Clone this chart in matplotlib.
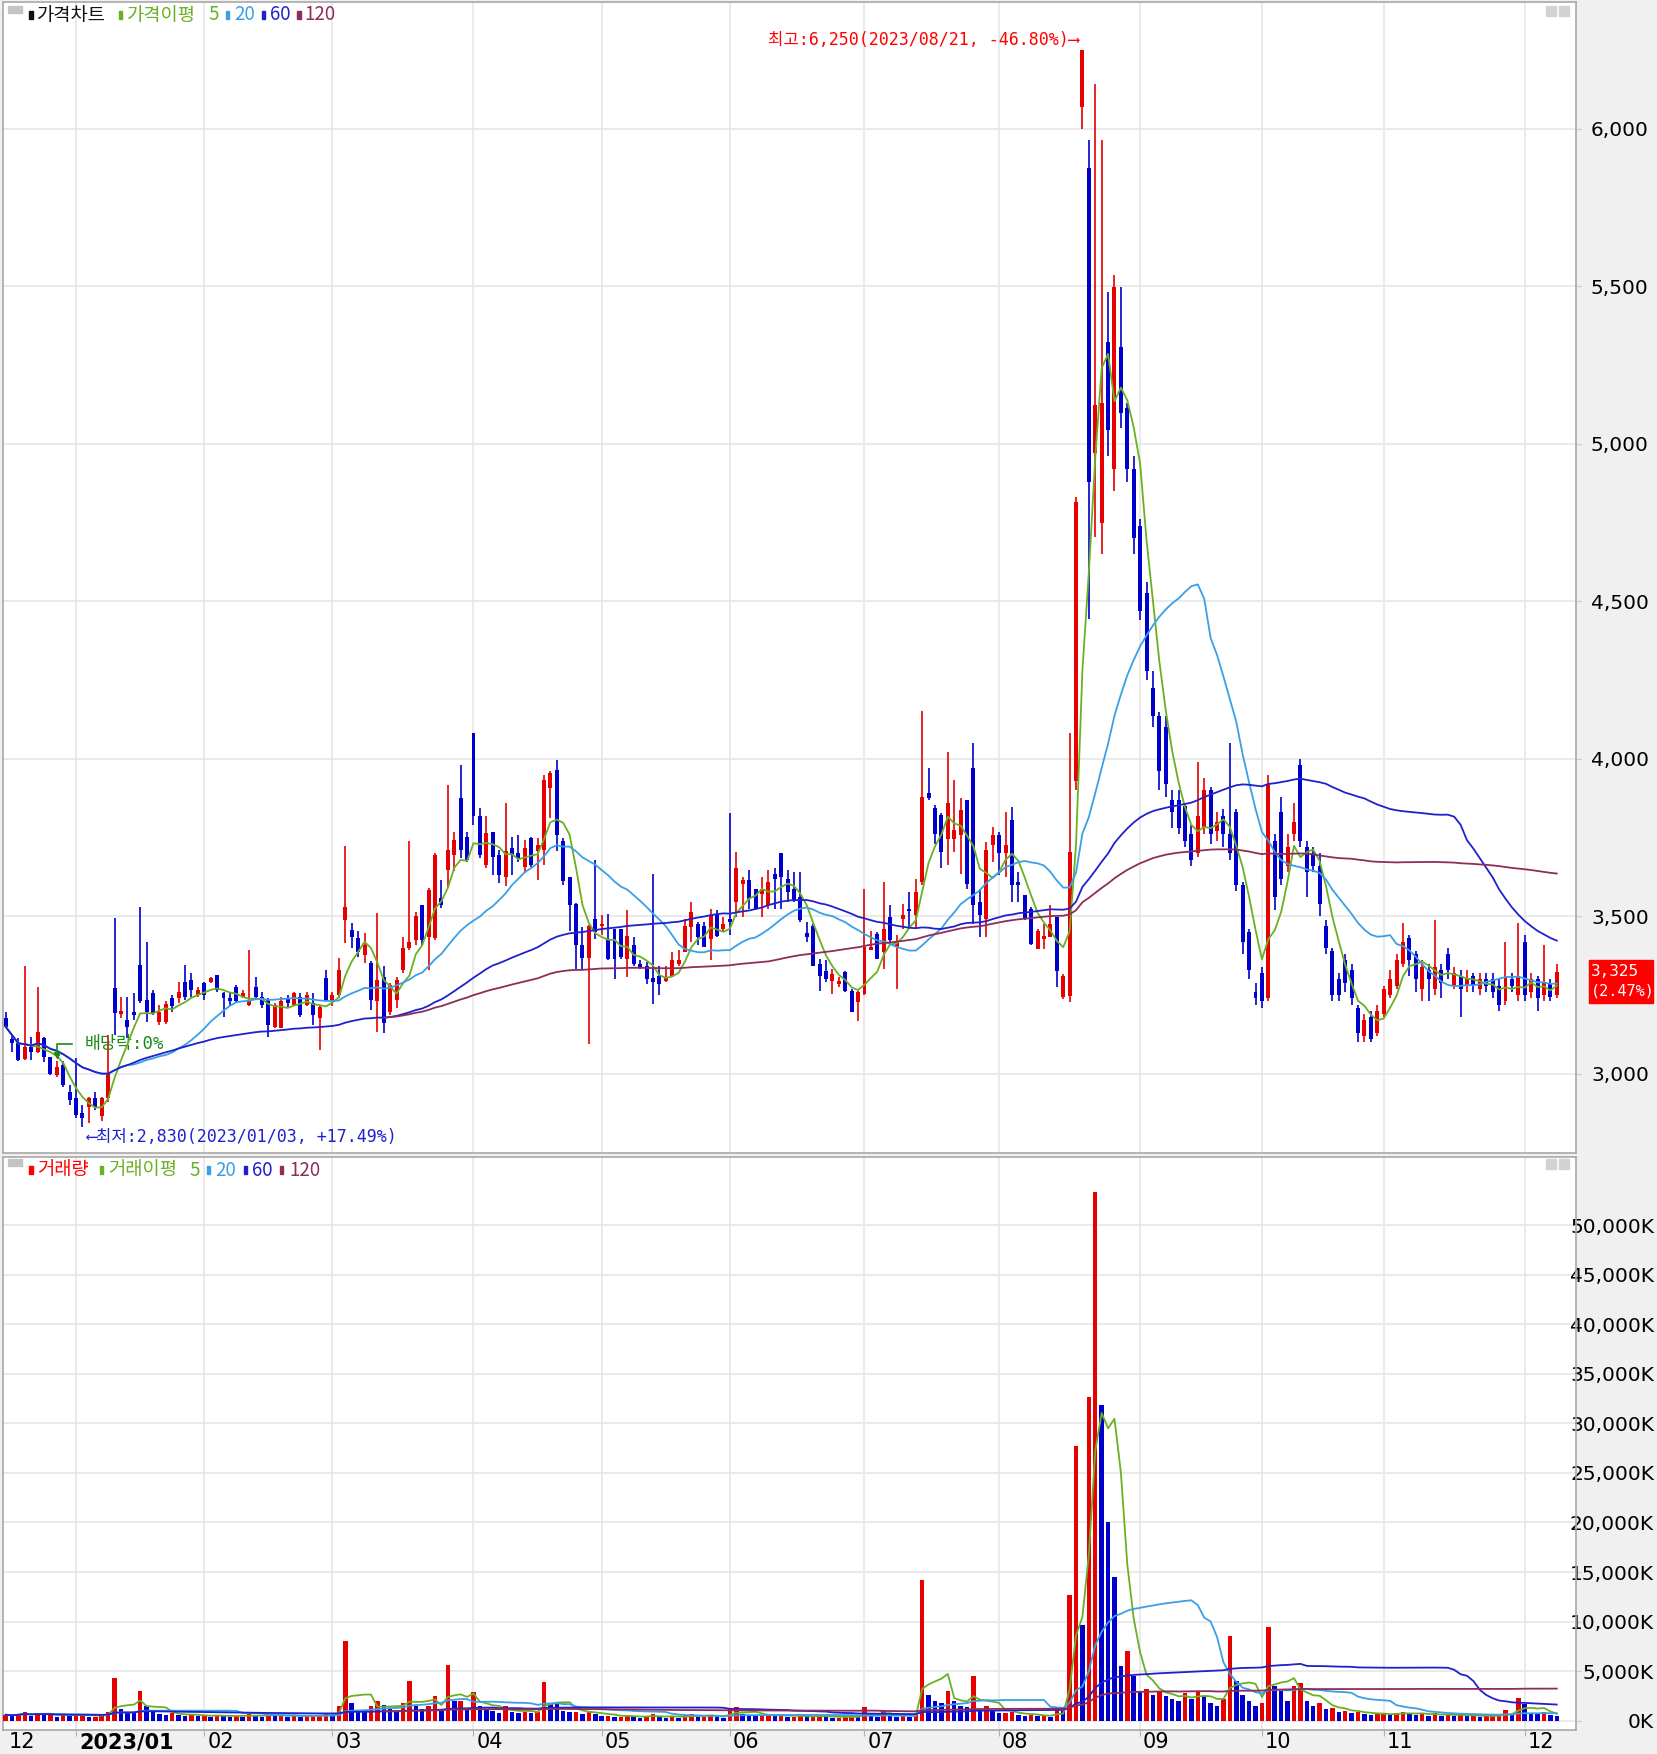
import numpy as np
import pandas as pd
import matplotlib
matplotlib.use("Agg")
import matplotlib.pyplot as plt
from matplotlib.patches import Rectangle

W, H = 1658, 1754

# daily candles, 2022/12/15 .. 2023/12/08
opens = [3177,3111,3097,3048,3087,3071,3113,3055,2997,3029,
         2944,2923,2875,2896,2923,2865,2923,3272,3189,3171,
         3198,3346,3235,3256,3166,3166,3240,3240,3293,3298,
         3251,3288,3293,3314,3256,3240,3277,3245,3219,3277,
         3245,3235,3150,3145,3240,3219,3245,3219,3224,3177,
         3304,3235,3251,3489,3457,3431,3378,3351,3230,3309,
         3198,3235,3330,3399,3425,3537,3436,3431,3558,3648,
         3695,3875,3753,4081,3817,3663,3769,3695,3626,3716,
         3700,3658,3748,3706,3711,3907,3965,3740,3625,3540,
         3408,3367,3492,3471,3429,3460,3460,3365,3408,3349,
         3344,3304,3312,3296,3312,3349,3386,3466,3477,3471,
         3429,3508,3461,3492,3546,3604,3615,3588,3572,3535,
         3636,3700,3620,3588,3562,3447,3471,3349,3328,3296,
         3286,3323,3264,3227,3254,3392,3445,3386,3498,3402,
         3492,3524,3503,3609,3891,3843,3822,3747,3747,3758,
         3869,3970,3546,3492,3726,3758,3700,3806,3609,3567,
         3524,3397,3429,3434,3498,3243,3248,3930,6070,5874,
         4971,4750,5324,4920,5306,5113,4920,4740,4525,4225,
         4136,4100,3870,3870,3850,3760,3700,3780,3900,3770,
         3820,3760,3830,3600,3450,3260,3320,3240,3740,3830,
         3660,3760,3980,3720,3700,3660,3470,3390,3300,3360,
         3330,3210,3120,3180,3130,3190,3250,3280,3350,3430,
         3380,3270,3330,3270,3330,3380,3280,3310,3280,3310,
         3270,3300,3300,3280,3230,3300,3250,3420,3260,3300,
         3250,3290,3250]
highs = [3195,3124,3113,3341,3118,3277,3118,3055,3040,3040,
         2965,3050,2902,2928,2944,2928,3124,3494,3245,3245,
         3256,3531,3420,3267,3219,3230,3251,3293,3346,3320,
         3277,3293,3309,3314,3261,3261,3282,3267,3394,3309,
         3261,3240,3224,3245,3251,3261,3256,3261,3256,3214,
         3330,3261,3367,3722,3478,3452,3447,3357,3510,3341,
         3288,3309,3436,3738,3515,3537,3590,3700,3616,3917,
         3769,3981,3769,4081,3843,3817,3769,3711,3859,3753,
         3759,3743,3753,3748,3949,3960,3997,3750,3626,3542,
         3466,3473,3678,3503,3508,3460,3460,3519,3434,3360,
         3354,3636,3344,3344,3386,3392,3492,3546,3482,3482,
         3524,3519,3498,3827,3705,3625,3646,3588,3625,3646,
         3652,3700,3646,3641,3641,3482,3477,3365,3360,3333,
         3307,3328,3270,3264,3588,3455,3450,3609,3535,3440,
         3540,3577,3620,4151,3970,3854,3827,4023,3933,3875,
         3869,4050,3588,3737,3784,3769,3832,3848,3641,3567,
         3530,3461,3477,3535,3498,3317,4082,4830,6250,5964,
         6143,5964,5483,5535,5497,5130,4960,4760,4560,4280,
         4150,4135,3900,3900,3860,3790,3990,3940,3910,3830,
         3840,4050,3840,3610,3460,3290,3340,3950,3760,3880,
         3760,3860,4000,3740,3720,3700,3490,3400,3320,3380,
         3350,3220,3190,3200,3220,3280,3330,3380,3480,3440,
         3390,3360,3350,3490,3350,3400,3340,3330,3330,3320,
         3320,3320,3320,3300,3420,3320,3480,3440,3320,3310,
         3410,3300,3350]
lows = [3145,3071,3041,3045,3044,3066,3039,2998,2990,2960,
        2902,2859,2830,2843,2886,2849,2912,3124,3177,3113,
        3171,3224,3166,3187,3156,3160,3198,3224,3235,3245,
        3245,3235,3288,3261,3180,3214,3224,3240,3214,3235,
        3208,3118,3145,3145,3208,3214,3182,3214,3155,3076,
        3230,3214,3240,3415,3399,3372,3351,3203,3134,3129,
        3187,3208,3320,3394,3409,3409,3330,3425,3526,3590,
        3643,3685,3674,3790,3685,3653,3632,3605,3595,3632,
        3674,3637,3658,3616,3663,3812,3706,3600,3455,3333,
        3333,3094,3429,3440,3360,3302,3365,3307,3344,3333,
        3286,3222,3249,3291,3307,3344,3386,3418,3408,3402,
        3360,3434,3450,3440,3498,3498,3524,3519,3498,3524,
        3524,3524,3546,3546,3482,3418,3344,3264,3291,3254,
        3275,3259,3195,3169,3249,3392,3365,3333,3408,3270,
        3460,3466,3461,3599,3870,3731,3652,3662,3705,3636,
        3588,3477,3434,3434,3673,3630,3625,3546,3546,3487,
        3408,3397,3397,3434,3275,3238,3227,3900,6000,4445,
        4704,4650,4960,4850,5050,4880,4650,4440,4250,4100,
        3900,3880,3780,3760,3720,3660,3690,3760,3730,3740,
        3720,3680,3580,3380,3300,3220,3210,3230,3520,3600,
        3640,3740,3720,3560,3640,3500,3380,3230,3230,3260,
        3220,3100,3100,3100,3120,3180,3240,3270,3340,3310,
        3260,3230,3230,3250,3240,3300,3270,3180,3260,3260,
        3250,3260,3240,3200,3220,3260,3230,3230,3240,3200,
        3230,3230,3240]
closes = [3150,3097,3044,3087,3071,3134,3055,2999,3023,2965,
          2917,2870,2859,2923,2896,2923,3002,3193,3200,3150,
          3187,3230,3198,3193,3198,3221,3214,3261,3245,3267,
          3267,3251,3304,3267,3240,3230,3230,3256,3235,3245,
          3219,3155,3219,3230,3224,3256,3187,3251,3187,3211,
          3235,3251,3330,3531,3436,3388,3410,3235,3298,3161,
          3282,3298,3399,3420,3500,3425,3584,3695,3537,3711,
          3743,3711,3679,3817,3695,3764,3690,3632,3706,3695,
          3685,3716,3663,3727,3933,3954,3759,3611,3537,3408,
          3367,3471,3450,3477,3365,3365,3370,3439,3349,3339,
          3302,3291,3286,3307,3360,3360,3471,3514,3434,3402,
          3503,3439,3477,3482,3652,3615,3556,3524,3588,3609,
          3620,3625,3578,3551,3487,3434,3344,3312,3302,3317,
          3296,3264,3195,3259,3402,3402,3365,3461,3424,3418,
          3503,3516,3577,3880,3875,3763,3705,3859,3774,3838,
          3604,3535,3503,3710,3758,3700,3726,3599,3599,3493,
          3413,3455,3439,3477,3328,3312,3705,4815,6250,4880,
          5123,5130,5044,5497,5098,4920,4700,4470,4280,4136,
          3960,3920,3830,3780,3740,3680,3820,3900,3760,3800,
          3760,3700,3600,3420,3330,3240,3230,3920,3560,3620,
          3720,3800,3740,3640,3660,3540,3400,3250,3250,3290,
          3240,3130,3170,3110,3200,3270,3300,3360,3420,3360,
          3300,3340,3300,3340,3290,3330,3320,3270,3300,3280,
          3300,3280,3260,3220,3310,3280,3310,3250,3300,3240,
          3290,3245,3325]
# volume in thousand shares
volumes = [600,500,700,900,500,800,600,700,400,600,
           500,600,700,400,400,500,900,4300,1200,900,
           800,3000,1500,900,700,600,800,600,500,600,
           500,500,400,600,500,400,500,400,700,500,
           400,700,500,600,400,500,400,500,500,600,
           700,500,1500,8000,1800,1000,900,1500,2000,1600,
           1200,1000,1800,4000,1500,1200,1500,2500,1200,5600,
           2000,2000,1200,2900,1500,1200,1000,800,1500,900,
           800,900,800,900,3900,1800,1700,1000,900,900,
           700,1000,700,500,500,400,400,600,400,300,
           400,700,400,300,400,300,600,700,400,400,
           600,400,300,1300,1400,700,600,500,500,600,
           500,600,400,400,500,400,500,500,400,300,
           300,400,500,400,1400,500,400,1000,500,400,
           500,400,600,14200,2600,2000,1800,3000,2000,1500,
           1400,4500,1200,1500,1000,800,800,900,600,500,
           600,500,500,400,1200,1000,12700,27700,9700,32700,
           53300,31800,20000,14500,5500,7000,4500,3000,3200,2600,
           3000,2500,2200,2000,2800,2200,3000,2500,1800,1500,
           2200,8500,4000,2600,2000,1500,1800,9500,3500,3000,
           2000,3500,3800,2000,1500,1800,1200,1300,900,1000,
           800,900,700,600,700,700,600,800,900,700,
           600,700,500,800,500,600,500,600,500,500,
           400,500,500,600,1100,600,2300,1700,800,700,
           900,600,500]

month_pos = [0, 11, 31, 51, 73, 93, 113, 134, 155, 177, 196, 215, 237]
month_labels = ["12", "2023/01", "02", "03", "04", "05", "06", "07", "08", "09", "10", "11", "12"]
price_ticks = [3000, 3500, 4000, 4500, 5000, 5500, 6000]
vol_ticks = list(range(0, 50001, 5000))

RED = "#e60000"
BLUE = "#0000cc"
MA_COLORS = {5: "#6ab023", 20: "#3a9fe6", 60: "#2020cc", 120: "#8c2d5c"}
GRID = "#e6e6e6"
SPINE = "#a8a8a8"
NUM_FONT = ["Liberation Sans Narrow", "DejaVu Sans"]
KR_FONT = ["Noto Sans CJK KR", "DejaVu Sans"]
MONO_FONT = ["DejaVu Sans Mono", "DejaVu Sans", "Noto Sans CJK KR"]

o = np.array(opens, float)
h = np.array(highs, float)
l = np.array(lows, float)
c = np.array(closes, float)
v = np.array(volumes, float)
x = np.arange(len(c))
up = c >= o

# volume bar colour: red when volume rose against the day before
prev_v = np.r_[0, v[:-1]]
vol_up = v >= prev_v

cs = pd.Series(c)
vs = pd.Series(v)


def ma(s, n):
    return s.rolling(n, min_periods=1 if n < 120 else 60).mean()


fig = plt.figure(figsize=(W / 100, H / 100), dpi=100, facecolor="#f0f0f0")


def fx(px):
    return px / W


def fy(py):
    return 1 - py / H


ax1 = fig.add_axes([fx(3), fy(1153), fx(1576) - fx(3), fy(2) - fy(1153)])
ax2 = fig.add_axes([fx(3), fy(1730), fx(1576) - fx(3), fy(1157) - fy(1730)])

for ax in (ax1, ax2):
    ax.set_facecolor("white")
    ax.set_xlim(-0.4, 245.0)
    for s in ax.spines.values():
        s.set_color(SPINE)
        s.set_linewidth(1.2)
    ax.set_axisbelow(True)
    for p in month_pos[1:]:
        ax.axvline(p, color=GRID, lw=1.2, zorder=0)

# ---- price panel
ax1.set_ylim(2749, 6402)
for t in price_ticks:
    ax1.axhline(t, color=GRID, lw=1.2, zorder=0)

ax1.vlines(x[up], l[up], h[up], color=RED, lw=1.2, zorder=2)
ax1.vlines(x[~up], l[~up], h[~up], color=BLUE, lw=1.2, zorder=2)
body_h = np.maximum(np.abs(c - o), 4)
ax1.bar(x[up], body_h[up], bottom=np.minimum(o, c)[up], width=0.62, color=RED, zorder=3)
ax1.bar(x[~up], body_h[~up], bottom=np.minimum(o, c)[~up], width=0.62, color=BLUE, zorder=3)

for n, col in MA_COLORS.items():
    ax1.plot(x, ma(cs, n), color=col, lw=1.3, zorder=4)

ax1.set_yticks(price_ticks)
ax1.set_yticklabels([f"{t:,}" for t in price_ticks], fontfamily=NUM_FONT, fontsize=14.5)
ax1.tick_params(axis="y", left=False, labelleft=False, right=True, labelright=True,
                length=3.6, color="#c8c8c8", pad=7.2)
ax1.tick_params(axis="x", bottom=False, labelbottom=False)

# annotations
hi_i = int(np.argmax(h))
lo_i = int(np.argmin(l))
ax1.text(hi_i - 0.5, 6281, "최고:6,250(2023/08/21, -46.80%)⟶", color="#ff0000",
         ha="right", va="center", fontsize=12, fontfamily=MONO_FONT)
ax1.text(lo_i + 0.6, 2801, "⟵최저:2,830(2023/01/03, +17.49%)", color="#2020cc",
         ha="left", va="center", fontsize=12, fontfamily=MONO_FONT)
ax1.plot([10.4, 8.0, 8.0], [3096, 3096, 3066], color="#1a8a1a", lw=1.2, zorder=5)
ax1.plot([8.0], [3060], marker="v", color="#1a8a1a", ms=5, zorder=5)
ax1.text(12.3, 3094, "배당락:0%", color="#1a8a1a", ha="left", va="center",
         fontsize=12.5, fontfamily=MONO_FONT)

# ---- volume panel
ax2.set_ylim(-938, 56870)
for t in vol_ticks:
    ax2.axhline(t, color=GRID, lw=1.2, zorder=0)
ax2.bar(x[vol_up], v[vol_up], width=0.7, color=RED, zorder=3)
ax2.bar(x[~vol_up], v[~vol_up], width=0.7, color=BLUE, zorder=3)
for n, col in MA_COLORS.items():
    ax2.plot(x, ma(vs, n), color=col, lw=1.3, zorder=4)

ax2.set_yticks(vol_ticks)
ax2.set_yticklabels([f"{t:,}K" for t in vol_ticks], fontfamily=NUM_FONT, fontsize=14.5)
ax2.tick_params(axis="y", left=False, labelleft=False, right=True, labelright=True,
                length=3.6, color="#c8c8c8", pad=52.6)
for lab in ax2.get_yticklabels():
    lab.set_horizontalalignment("right")
ax2.set_xticks(month_pos[1:])
ax2.tick_params(axis="x", labelbottom=False, length=4, color="#b0b0b0")
for p, lab in zip(month_pos, month_labels):
    ax2.text(p + 0.45, -0.021, lab, transform=ax2.get_xaxis_transform(),
             ha="left", va="center", fontsize=15, fontfamily=NUM_FONT,
             fontweight="bold" if "/" in lab else "normal")

# ---- legends
def legend_row(y, items):
    for sx, tx, txt, col in items:
        if sx is not None:
            fig.patches.append(Rectangle((fx(sx), fy(y + 4)), fx(3.5), 8 / H, color=col,
                                         transform=fig.transFigure))
        fig.text(fx(tx), fy(y), txt, color=col, ha="left", va="center",
                 fontsize=13.5, fontfamily=KR_FONT)


for y0 in (10, 1163):
    fig.patches.append(Rectangle((fx(8), fy(y0 + 3)), fx(14), 7 / H, color="#c4c4c4",
                                 transform=fig.transFigure))
    fig.patches.append(Rectangle((fx(1546), fy(y0 + 6)), fx(10), 10 / H, color="#d2d2d2",
                                 transform=fig.transFigure))
    fig.patches.append(Rectangle((fx(1559), fy(y0 + 6)), fx(10), 10 / H, color="#d2d2d2",
                                 transform=fig.transFigure))

legend_row(15, [(29, 37, "가격차트", "#111111"), (119, 127, "가격이평", MA_COLORS[5]),
                (None, 208, "5", MA_COLORS[5]), (226, 234, "20", MA_COLORS[20]),
                (262, 270, "60", MA_COLORS[60]), (297, 304, "120", MA_COLORS[120])])
legend_row(1170, [(29, 37, "거래량", "#ff0000"), (100, 108, "거래이평", MA_COLORS[5]),
                  (None, 189, "5", MA_COLORS[5]), (207, 215, "20", MA_COLORS[20]),
                  (244, 252, "60", MA_COLORS[60]), (280, 289, "120", MA_COLORS[120])])

# ---- current price tag
fig.patches.append(Rectangle((fx(1589), fy(1003)), fx(64), 43 / H, color="#ff0000",
                             transform=fig.transFigure))
fig.text(fx(1591), fy(971), f"{closes[-1]:,}", color="white", ha="left", va="center",
         fontsize=11.5, fontfamily=MONO_FONT)
chg = (closes[-1] / closes[-2] - 1) * 100
fig.text(fx(1591), fy(991), f"({chg:.2f}%)", color="white", ha="left", va="center",
         fontsize=11, fontfamily=MONO_FONT)

fig.savefig("out.png", dpi=100, facecolor=fig.get_facecolor())
